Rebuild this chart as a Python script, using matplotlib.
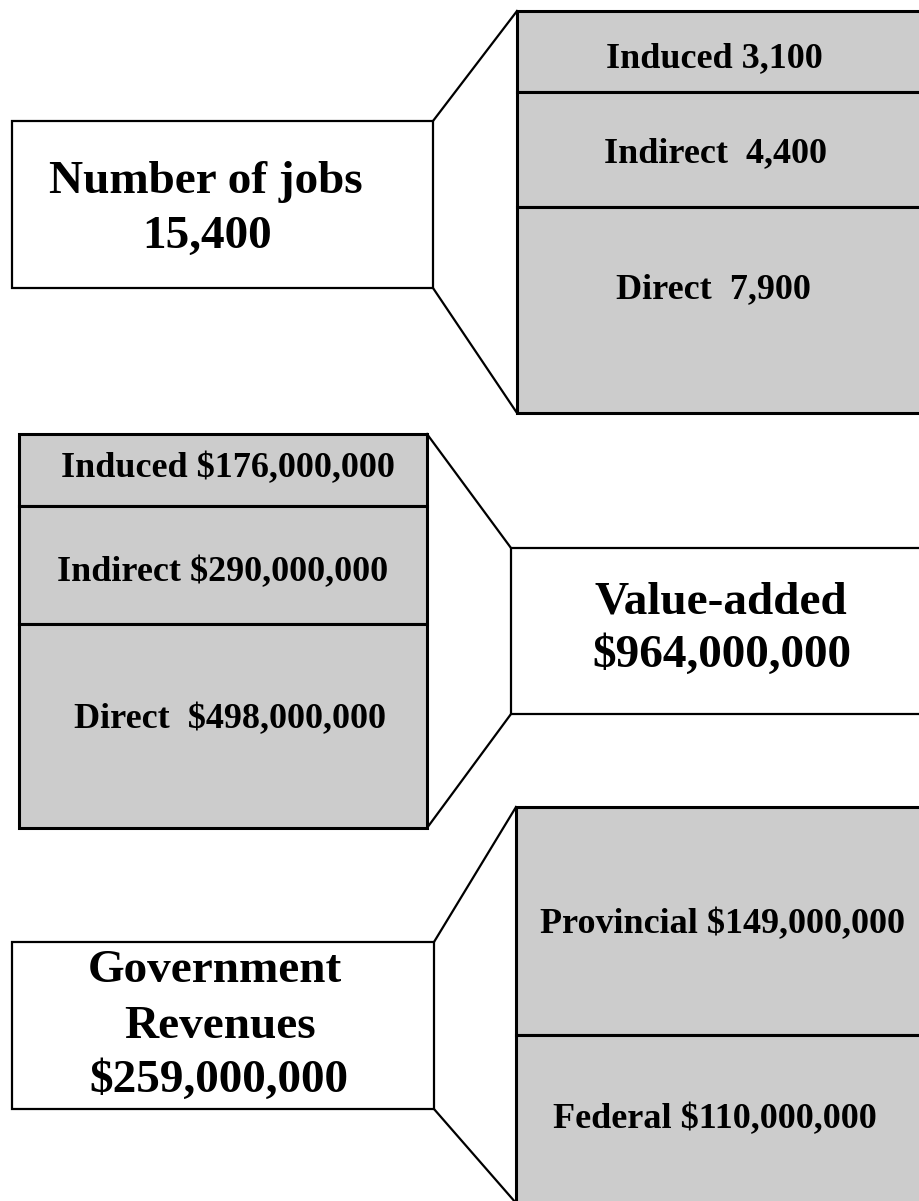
import matplotlib.pyplot as plt
from matplotlib.patches import Rectangle

plt.rcParams['font.family'] = ['Liberation Serif', 'DejaVu Serif']

# data
jobs_parts = ['Induced', 'Indirect', 'Direct']
jobs_values = [3100, 4400, 7900]
jobs_labels = ['Induced 3,100', 'Indirect  4,400', 'Direct  7,900']
jobs_title = ['Number of jobs', '15,400']

va_parts = ['Induced', 'Indirect', 'Direct']
va_values = [176000000, 290000000, 498000000]
va_labels = ['Induced $176,000,000', 'Indirect $290,000,000', 'Direct  $498,000,000']
va_title = ['Value-added', '$964,000,000']

gov_parts = ['Provincial', 'Federal']
gov_values = [149000000, 110000000]
gov_labels = ['Provincial $149,000,000', 'Federal $110,000,000']
gov_title = ['Government', 'Revenues', '$259,000,000']

GREY = '#cccccc'
W, H = 919, 1201

fig = plt.figure(figsize=(W / 100, H / 100), dpi=100)
ax = fig.add_axes([0, 0, 1, 1])
ax.set_xlim(0, W)
ax.set_ylim(H, 0)
ax.axis('off')


def stack(x0, x1, top, height, values, labels, label_x, label_y):
    total = sum(values)
    scale = height / total
    y = top
    for v, lab, lx, ly in zip(values, labels, label_x, label_y):
        ax.bar(x0, v * scale, bottom=y, width=x1 - x0, align='edge',
               color=GREY, edgecolor='black', linewidth=2.2, zorder=2)
        ax.text(lx, ly, lab, ha='center', va='baseline', fontsize=26,
                fontweight='bold', zorder=3)
        y += v * scale
    return top, y


def white_box(x0, x1, y0, y1, lines, xs, ys, size):
    ax.add_patch(Rectangle((x0, y0), x1 - x0, y1 - y0, facecolor='white',
                           edgecolor='black', linewidth=1.6, zorder=2))
    for t, tx, ty in zip(lines, xs, ys):
        ax.text(tx, ty, t, ha='center', va='baseline', fontsize=size,
                fontweight='bold', zorder=3)


def connect(p1, p2):
    ax.plot([p1[0], p2[0]], [p1[1], p2[1]], color='black', lw=1.6, zorder=1)


# number of jobs
t, b = stack(517, 935, 11, 402, jobs_values, jobs_labels,
             [714, 715, 713], [67, 162, 298])
white_box(12, 433, 121, 288, jobs_title, [206, 207], [193, 248], 34)
connect((433, 121), (517, t))
connect((433, 288), (517, b))

# value added
t, b = stack(19, 427, 434, 394, va_values, va_labels,
             [228, 223, 230], [477, 581, 728])
white_box(511, 935, 548, 714, va_title, [721, 722], [613, 667], 34)
connect((427, t), (511, 548))
connect((427, b), (511, 714))

# government revenues
t, b = stack(516, 935, 807, 396, gov_values, gov_labels,
             [722, 715], [933, 1128])
white_box(12, 434, 942, 1109, gov_title, [215, 220, 219], [982, 1038, 1092], 34)
connect((434, 942), (516, t))
connect((434, 1109), (516, b))

fig.savefig('out.png', dpi=100)
